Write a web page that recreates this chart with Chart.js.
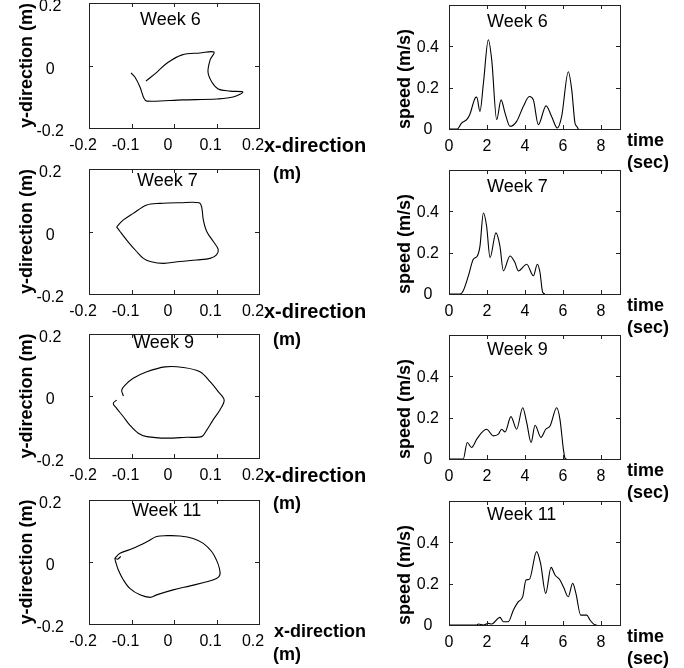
<!DOCTYPE html>
<html>
<head>
<meta charset="utf-8">
<script src="https://cdn.jsdelivr.net/npm/chart.js@4.4.1/dist/chart.umd.min.js"></script>
<style>
  html, body { margin: 0; padding: 0; background: #fff; overflow: hidden; }
  #wrap { position: relative; width: 684px; height: 668px; }
  canvas { position: absolute; }
</style>
</head>
<body>
<div id="wrap"></div>
<script>
// hand path (x, y in metres)
const week6X = [-0.066, -0.04, -0.016, 0.019, 0.061, 0.094, 0.085, 0.08, 0.089, 0.104, 0.132, 0.162, 0.139, 0.101, 0.021, -0.064, -0.071, -0.08, -0.092, -0.101];
const week6Y = [-0.05, -0.021, 0.008, 0.034, 0.04, 0.043, 0.018, -0.021, -0.053, -0.075, -0.082, -0.085, -0.101, -0.107, -0.110, -0.114, -0.104, -0.069, -0.037, -0.024];

const week7X = [-0.135, -0.119, -0.096, -0.064, -0.033, 0.014, 0.059, 0.065, 0.069, 0.077, 0.093, 0.104, 0.10, 0.085, 0.053, 0.014, -0.025, -0.056, -0.072, -0.088, -0.108, -0.127, -0.135];
const week7Y = [0.015, 0.037, 0.058, 0.085, 0.090, 0.092, 0.092, 0.079, 0.037, 0.0, -0.033, -0.057, -0.075, -0.086, -0.091, -0.096, -0.102, -0.096, -0.086, -0.064, -0.033, 0.0, 0.015];

const week9X = [-0.119, -0.123, -0.115, -0.096, -0.064, -0.021, 0.022, 0.061, 0.085, 0.104, 0.118, 0.108, 0.092, 0.077, 0.065, 0.030, -0.017, -0.064, -0.084, -0.104, -0.119, -0.135, -0.143, -0.135];
const week9Y = [0.0, 0.019, 0.035, 0.057, 0.078, 0.094, 0.092, 0.078, 0.046, 0.014, -0.013, -0.045, -0.077, -0.110, -0.131, -0.133, -0.136, -0.131, -0.120, -0.094, -0.067, -0.040, -0.024, -0.013];

const week11X = [-0.139, -0.127, -0.096, -0.064, -0.041, -0.017, 0.014, 0.045, 0.069, 0.089, 0.100, 0.107, 0.108, 0.100, 0.077, 0.038, -0.002, -0.041, -0.056, -0.080, -0.104, -0.119, -0.131, -0.136, -0.139, -0.133, -0.125];
const week11Y = [0.012, 0.028, 0.044, 0.065, 0.082, 0.085, 0.084, 0.076, 0.060, 0.033, 0.006, -0.021, -0.042, -0.053, -0.064, -0.077, -0.090, -0.106, -0.114, -0.106, -0.085, -0.058, -0.026, -0.005, 0.012, 0.009, 0.018];

// speed (m/s) against time (sec)
const week6T = [0, 0.44, 0.66, 0.93, 1.09, 1.37, 1.46, 1.63, 1.81, 2.07, 2.25, 2.51, 2.74, 2.95, 3.21, 3.56, 3.91, 4.23, 4.44, 4.70, 5.11, 5.40, 5.70, 5.93, 6.28, 6.46, 6.63, 6.72, 6.81];
const week6V = [0, 0, 0.029, 0.045, 0.069, 0.149, 0.154, 0.085, 0.22, 0.432, 0.333, 0.045, 0.141, 0.077, 0.013, 0.037, 0.109, 0.157, 0.141, 0.021, 0.112, 0.061, 0.005, 0.061, 0.277, 0.189, 0.029, 0.013, 0];

const week7T = [0, 0.58, 0.75, 1.02, 1.28, 1.49, 1.63, 1.81, 1.98, 2.16, 2.47, 2.68, 2.86, 3.21, 3.47, 3.65, 4.09, 4.44, 4.65, 4.79, 4.93, 5.05];
const week7V = [0, 0, 0.016, 0.088, 0.168, 0.184, 0.232, 0.392, 0.328, 0.176, 0.296, 0.232, 0.112, 0.184, 0.152, 0.112, 0.144, 0.088, 0.144, 0.104, 0.008, 0];

const week9T = [0, 0.75, 0.96, 1.19, 1.46, 1.72, 1.98, 2.33, 2.60, 2.77, 2.95, 3.26, 3.56, 3.88, 4.09, 4.32, 4.53, 4.84, 5.09, 5.32, 5.67, 5.84, 6.02, 6.11, 6.19];
const week9V = [0, 0, 0.08, 0.056, 0.096, 0.128, 0.144, 0.112, 0.12, 0.144, 0.131, 0.205, 0.144, 0.248, 0.176, 0.08, 0.163, 0.104, 0.144, 0.16, 0.248, 0.192, 0.048, 0.003, 0];

const week11T = [0, 1.46, 1.55, 1.8, 2.07, 2.25, 2.68, 2.86, 3.12, 3.39, 3.65, 3.88, 4.05, 4.23, 4.61, 4.82, 5.09, 5.37, 5.58, 5.84, 6.02, 6.28, 6.51, 6.68, 6.93, 7.25, 7.42, 7.63, 7.77];
const week11V = [0, 0, 0.005, 0, 0.008, 0.005, 0.037, 0.016, 0.016, 0.073, 0.113, 0.137, 0.218, 0.221, 0.355, 0.298, 0.153, 0.279, 0.242, 0.218, 0.185, 0.137, 0.202, 0.153, 0.048, 0.048, 0.024, 0.003, 0];

const weeks = ['Week 6', 'Week 7', 'Week 9', 'Week 11'];

// ticks
const posXTicks = [-0.2, -0.1, 0, 0.1, 0.2];
const posXTickLabels = ['-0.2', '-0.1', '0', '0.1', '0.2'];
const posYTicks = [-0.2, 0, 0.2];
const posYTickLabels = ['-0.2', '0', '0.2'];
const timeTicks = [0, 2, 4, 6, 8];
const timeTickLabels = ['0', '2', '4', '6', '8'];
const speedTicks = [0, 0.2, 0.4];
const speedTickLabels = ['0', '0.2', '0.4'];

const FONT = '"Liberation Sans", Arial, Helvetica, sans-serif';
const PAD_TOP = 40;   // has to beat tick padding + half a label
const X_AXIS_H = 62;

const zip = (xs, ys) => xs.map((x, i) => ({x: x, y: ys[i]}));

// box, inward ticks, week text and the side axis labels
const framePlugin = {
    id: 'frame',
    afterDraw(chart, args, opts) {
        const {ctx, chartArea: a} = chart;
        const x = chart.scales.x, y = chart.scales.y;
        ctx.save();
        ctx.strokeStyle = '#222';
        ctx.lineWidth = 1;
        ctx.strokeRect(Math.round(a.left) + 0.5, Math.round(a.top) + 0.5, Math.round(a.width), Math.round(a.height));
        ctx.beginPath();
        x.ticks.forEach(t => {
            const px = Math.round(x.getPixelForValue(t.value)) + 0.5;
            ctx.moveTo(px, a.bottom); ctx.lineTo(px, a.bottom - 4);
            ctx.moveTo(px, a.top); ctx.lineTo(px, a.top + 4);
        });
        y.ticks.forEach(t => {
            const py = Math.round(y.getPixelForValue(t.value)) + 0.5;
            ctx.moveTo(a.left, py); ctx.lineTo(a.left + 4, py);
            ctx.moveTo(a.right, py); ctx.lineTo(a.right - 4, py);
        });
        ctx.stroke();

        ctx.fillStyle = '#000';
        ctx.textBaseline = 'middle';
        ctx.textAlign = 'left';
        ctx.font = '18px ' + FONT;
        ctx.fillText(opts.title, x.getPixelForValue(opts.titleX), a.top + opts.titleDy);

        opts.sideLabels.forEach(l => {
            ctx.font = 'bold ' + l[3] + 'px ' + FONT;
            ctx.fillText(l[0], a.right + l[1], a.bottom + l[2]);
        });
        ctx.restore();
    }
};

function makePanel(p) {
    const c = document.createElement('canvas');
    c.width = p.width;
    c.height = PAD_TOP + p.plotH + X_AXIS_H;
    c.style.left = p.left + 'px';
    c.style.top = (p.plotTop - PAD_TOP) + 'px';
    document.getElementById('wrap').appendChild(c);

    new Chart(c, {
        type: 'scatter',
        data: {
            datasets: [{
                data: p.points,
                showLine: true,
                borderColor: '#000',
                borderWidth: 1.1,
                pointRadius: 0,
                tension: p.tension,
                cubicInterpolationMode: p.interp
            }]
        },
        options: {
            responsive: false,
            animation: false,
            events: [],
            layout: {padding: {top: PAD_TOP, left: 0, right: p.padRight, bottom: 0}},
            plugins: {
                legend: {display: false},
                tooltip: {enabled: false},
                frame: {title: p.title, titleX: p.titleX, titleDy: p.titleDy, sideLabels: p.sideLabels}
            },
            scales: {
                x: {
                    type: 'linear',
                    min: p.xMin, max: p.xMax,
                    grid: {display: false, drawTicks: false},
                    border: {display: false},
                    afterFit: s => { s.height = X_AXIS_H; },
                    afterBuildTicks: s => { s.ticks = p.xTicks.map(v => ({value: v})); },
                    ticks: {
                        padding: 8,
                        labelOffset: p.xLabelOffset,
                        color: '#000',
                        font: {family: FONT, size: 16},
                        maxRotation: 0,
                        callback: (v, i) => p.xTickLabels[i]
                    }
                },
                y: {
                    type: 'linear',
                    min: p.yMin, max: p.yMax,
                    grid: {display: false, drawTicks: false},
                    border: {display: false},
                    afterFit: s => { s.width = p.yAxisW; },
                    afterBuildTicks: s => { s.ticks = p.yTicks.map(v => ({value: v})); },
                    title: {
                        display: true,
                        text: p.yLabel,
                        align: p.yAlign,
                        color: '#000',
                        font: {family: FONT, size: 18, weight: 'bold'},
                        padding: {top: p.yTitlePad, bottom: 0}
                    },
                    ticks: {
                        padding: p.yTickPad,
                        labelOffset: p.yLabelOffset,
                        crossAlign: 'center',
                        color: '#000',
                        font: {family: FONT, size: 16},
                        callback: (v, i) => p.yTickLabels[i]
                    }
                }
            }
        },
        plugins: [framePlugin]
    });
}

const paths = [zip(week6X, week6Y), zip(week7X, week7Y), zip(week9X, week9Y), zip(week11X, week11Y)];
const speeds = [zip(week6T, week6V), zip(week7T, week7V), zip(week9T, week9V), zip(week11T, week11V)];

const leftTops = [3, 169, 334, 500];
const leftHeights = [125, 125, 124, 124];
const leftTitleX = [-0.08, -0.087, -0.096, -0.099];
const leftTitleDy = [17, 12, 9, 11];
const rightTops = [5, 170, 335, 501];
const rightTitleDy = [17, 17, 15, 14];

for (let r = 0; r < 4; r++) {
    const last = r === 3;
    makePanel({
        left: 0, width: 380, plotTop: leftTops[r], plotH: leftHeights[r],
        yAxisW: 89, padRight: 121,
        points: paths[r], tension: 0.35, interp: 'default',
        xMin: -0.2, xMax: 0.2, yMin: -0.2, yMax: 0.2,
        xTicks: posXTicks, xTickLabels: posXTickLabels, xLabelOffset: -6,
        yTicks: posYTicks, yTickLabels: posYTickLabels, yLabelOffset: 4,
        yLabel: 'y-direction (m)', yAlign: 'center', yTitlePad: 16, yTickPad: 25,
        title: weeks[r], titleX: leftTitleX[r], titleDy: leftTitleDy[r],
        sideLabels: last ? [['x-direction', 15, 8, 18], ['(m)', 14, 31, 18]]
                         : [['x-direction', 5, 18, 20], ['(m)', 14, 46, 18]]
    });
    makePanel({
        left: 380, width: 304, plotTop: rightTops[r], plotH: 124,
        yAxisW: 69, padRight: 64,
        points: speeds[r], tension: 0.4, interp: 'monotone',
        xMin: 0, xMax: 9, yMin: 0, yMax: 0.6,
        xTicks: timeTicks, xTickLabels: timeTickLabels, xLabelOffset: 0,
        yTicks: speedTicks, yTickLabels: speedTickLabels, yLabelOffset: 1,
        yLabel: 'speed (m/s)', yAlign: 'start', yTitlePad: 14, yTickPad: 10,
        title: weeks[r], titleX: 2.0, titleDy: rightTitleDy[r],
        sideLabels: [['time', 7, 12, 18], ['(sec)', 7, 34, 18]]
    });
}
</script>
</body>
</html>
